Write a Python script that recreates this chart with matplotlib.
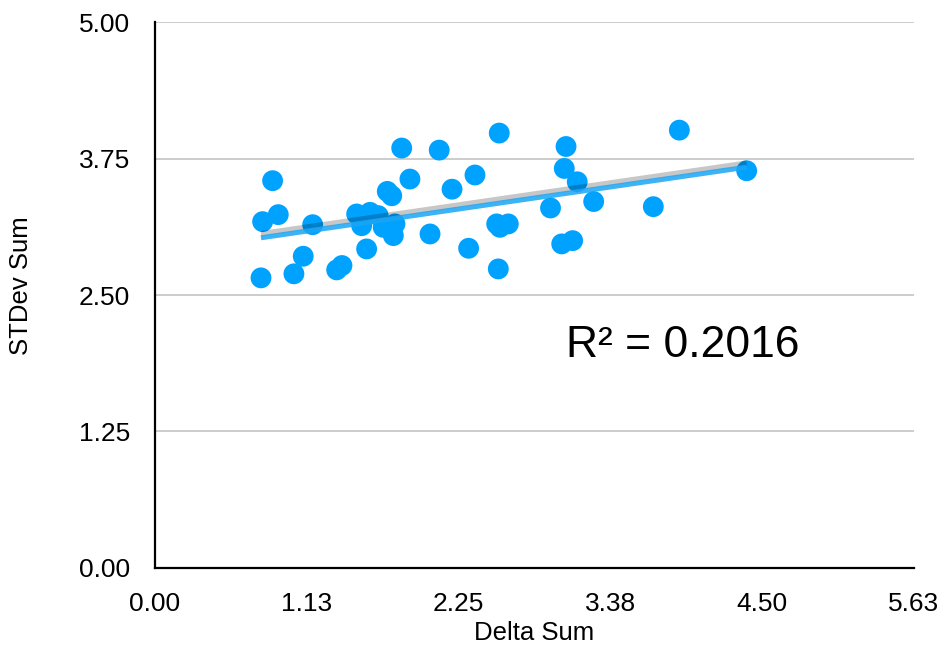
import numpy as np
import matplotlib
matplotlib.use("Agg")
import matplotlib.pyplot as plt
import matplotlib.transforms as mtransforms

# values
delta_sum = [0.786, 0.798, 0.872, 0.914, 1.030, 1.099, 1.169, 1.347, 1.386, 1.495,
             1.532, 1.569, 1.594, 1.655, 1.692, 1.722, 1.755, 1.779, 1.767, 1.829,
             1.890, 2.039, 2.107, 2.202, 2.325, 2.372, 2.552, 2.533, 2.557, 2.619,
             2.545, 2.932, 3.047, 3.034, 3.130, 3.015, 3.096, 3.252, 3.694, 3.887,
             4.386]
stdev_sum = [2.657, 3.172, 3.547, 3.236, 2.694, 2.855, 3.144, 2.730, 2.770, 3.242,
             3.135, 2.922, 3.257, 3.227, 3.120, 3.449, 3.409, 3.151, 3.044, 3.846,
             3.562, 3.059, 3.827, 3.469, 2.928, 3.599, 3.983, 3.151, 3.120, 3.151,
             2.739, 3.297, 3.860, 3.659, 3.537, 2.968, 2.998, 3.356, 3.309, 4.010,
             3.638]
x_ticks = [0.0, 1.125, 2.25, 3.375, 4.5, 5.625]
x_tick_labels = ["0.00", "1.13", "2.25", "3.38", "4.50", "5.63"]
y_ticks = [0.0, 1.25, 2.5, 3.75, 5.0]
y_tick_labels = ["0.00", "1.25", "2.50", "3.75", "5.00"]
r2_label = "R² = 0.2016"

plt.rcParams['font.family'] = ['Liberation Sans', 'DejaVu Sans']

fig = plt.figure(figsize=(9.46, 6.48), dpi=100)
ax = fig.add_axes([0.1638, 0.1235, 0.8022, 0.8425])

x = np.array(delta_sum)
y = np.array(stdev_sum)

ax.scatter(x, y, s=225, color='#00a2ff', edgecolors='none', zorder=3)

# linear trendline
slope, intercept = np.polyfit(x, y, 1)
xs = np.array([x.min(), x.max()])
ys = slope * xs + intercept
shadow = mtransforms.offset_copy(ax.transData, fig=fig, x=0, y=4, units='dots')
ax.plot(xs, ys, color='black', alpha=0.22, lw=4, solid_capstyle='butt',
        transform=shadow, zorder=4)
ax.plot(xs, ys, color='#1aa6f5', alpha=0.85, lw=3.6, solid_capstyle='butt', zorder=5)

ax.text(0.695, 0.408, r2_label, transform=ax.transAxes, fontsize=32,
        ha='center', va='center')

ax.set_xlim(0, 5.625)
ax.set_ylim(0, 5.0)
ax.set_xticks(x_ticks)
ax.set_xticklabels(x_tick_labels)
ax.set_yticks(y_ticks)
ax.set_yticklabels(y_tick_labels)
ax.tick_params(length=0, labelsize=19)
ax.tick_params(axis='y', pad=18)
ax.tick_params(axis='x', pad=17)

ax.set_xlabel("Delta Sum", fontsize=18.5, va='center')
ax.set_ylabel("STDev Sum", fontsize=18.5, va='center')
ax.xaxis.set_label_coords(0.5, -0.119)
ax.yaxis.set_label_coords(-0.176, 0.518)

ax.grid(True, axis='y', color='#c8c8c8', lw=1.3)
ax.set_axisbelow(True)
for side in ['top', 'right']:
    ax.spines[side].set_visible(False)
for side in ['left', 'bottom']:
    ax.spines[side].set_color('black')
    ax.spines[side].set_linewidth(1.6)

fig.savefig("out.png", dpi=100)
